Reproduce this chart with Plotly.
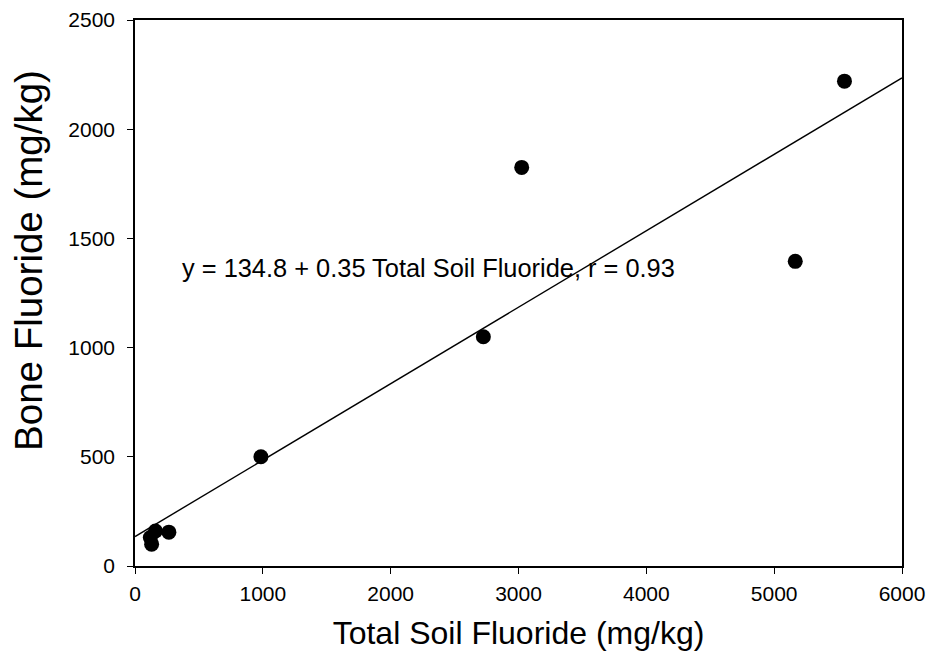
import plotly.graph_objects as go

# Soil vs. bone fluoride measurements (mg/kg)
soil_fluoride = [120, 160, 130, 265, 985, 2725, 3025, 5165, 5550]
bone_fluoride = [130, 160, 100, 155, 500, 1050, 1825, 1395, 2220]

# Fitted regression line
intercept = 134.8
slope = 0.35
r_value = 0.93
fit_x = [0, 6000]
fit_y = [intercept + slope * x for x in fit_x]

x_ticks = [0, 1000, 2000, 3000, 4000, 5000, 6000]
y_ticks = [0, 500, 1000, 1500, 2000, 2500]

font_family = "Liberation Sans, Arial, sans-serif"

fig = go.Figure()
fig.add_trace(go.Scatter(
    x=fit_x, y=fit_y, mode="lines",
    line=dict(color="black", width=1.4),
    hoverinfo="skip", showlegend=False,
))
fig.add_trace(go.Scatter(
    x=soil_fluoride, y=bone_fluoride, mode="markers",
    marker=dict(color="black", size=15, line=dict(width=0)),
    showlegend=False,
))

# Regression equation
fig.add_annotation(
    x=352, y=1364, xref="x", yref="y",
    text=f"y = {intercept} + {slope} Total Soil Fluoride, r = {r_value}",
    showarrow=False, xanchor="left", yanchor="middle",
    font=dict(family=font_family, size=25.4, color="black"),
)

# Vertical axis title (placed slightly above the axis midpoint)
fig.add_annotation(
    x=-0.138, y=0.559, xref="paper", yref="paper",
    text="Bone Fluoride (mg/kg)", textangle=-90,
    showarrow=False, xanchor="center", yanchor="middle",
    font=dict(family=font_family, size=38.5, color="black"),
)

axis_common = dict(
    showgrid=False, zeroline=False, automargin=False,
    showline=True, linecolor="black", linewidth=1.5, mirror=True,
    ticks="outside", ticklen=6, tickwidth=1.2, tickcolor="black",
    tickfont=dict(family=font_family, size=21, color="black"),
)

fig.update_xaxes(
    range=[0, 6000], tickvals=x_ticks, ticklabelstandoff=2,
    title=dict(text="Total Soil Fluoride (mg/kg)", standoff=18,
               font=dict(family=font_family, size=32, color="black")),
    **axis_common,
)
fig.update_yaxes(
    range=[0, 2500], tickvals=y_ticks, ticklabelstandoff=8,
    **axis_common,
)

fig.update_layout(
    width=928, height=662,
    margin=dict(l=135, r=26, t=20, b=96),
    plot_bgcolor="white", paper_bgcolor="white",
)

fig.write_html("out.html")
